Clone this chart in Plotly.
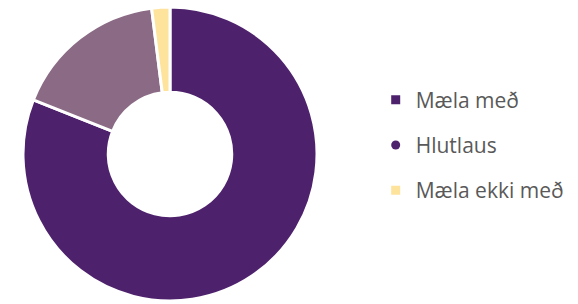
import plotly.graph_objects as go

labels = ["Mæla með", "Hlutlaus", "Mæla ekki með"]
values = [81, 17, 2]
colors = ["#4E216C", "#8A6A84", "#FDE39C"]
legend_colors = ["#4E216C", "#4E216C", "#FDE39C"]
legend_symbols = ["square", "circle", "square"]

fig = go.Figure()
fig.add_trace(go.Pie(
    labels=labels, values=values, hole=0.42, sort=False,
    direction="clockwise", rotation=0,
    marker=dict(colors=colors, line=dict(color="white", width=3)),
    textinfo="none", hoverinfo="label+percent", showlegend=False,
    domain=dict(x=[23/578, 317/578], y=[3/304, 297/304]),
))
for lab, col, sym in zip(labels, legend_colors, legend_symbols):
    fig.add_trace(go.Scatter(
        x=[None], y=[None], mode="markers", name=lab, legendgroup=lab,
        marker=dict(color=col, symbol=sym, size=9),
    ))

fig.update_layout(
    width=578, height=304, margin=dict(l=0, r=0, t=0, b=0),
    paper_bgcolor="white", plot_bgcolor="white",
    xaxis=dict(visible=False), yaxis=dict(visible=False),
    legend=dict(x=0.65, y=0.523, xanchor="left", yanchor="middle",
                font=dict(family="Open Sans", size=21, color="#595959"),
                tracegroupgap=15, itemwidth=30),
)
fig.write_html("out.html", config={"displayModeBar": False},
               post_script="document.body.style.margin='0';")
